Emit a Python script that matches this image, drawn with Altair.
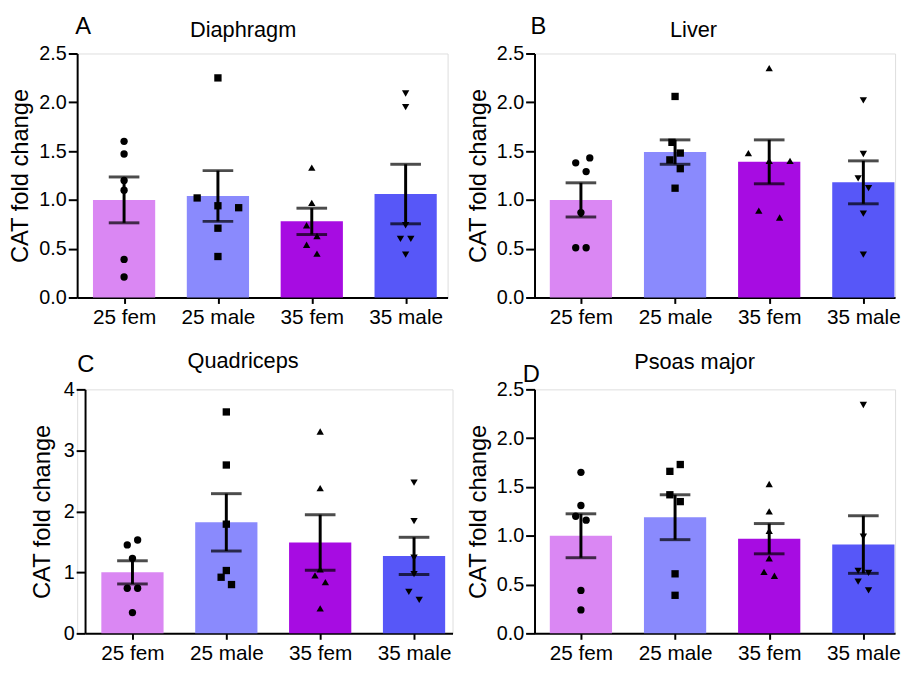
import altair as alt
import pandas as pd

groups = ["25 fem", "25 male", "35 fem", "35 male"]
bar_colors = ["#DA87F3", "#8A8AFD", "#A70CE2", "#5757F8"]
marker_shapes = ["circle", "square", "triangle-up", "triangle-down"]

# Panel A – Diaphragm
dia_points = [[1.60, 1.47, 1.20, 1.10, 0.39, 0.21],
              [2.25, 1.02, 0.94, 0.92, 0.71, 0.42],
              [1.33, 0.97, 0.74, 0.63, 0.54, 0.45],
              [2.09, 1.95, 0.74, 0.60, 0.60, 0.44]]
dia_slots = [[0, 0, 0, 0, 0, 0],
             [0, -4, 0, 4, 0, 0],
             [0, 0, -1, 1, -1, 1],
             [0, 0, 0, -1, 1, 0]]
dia_mean = [1.00, 1.04, 0.78, 1.06]
dia_sem = [0.235, 0.26, 0.135, 0.305]

# Panel B – Liver
liv_points = [[1.43, 1.38, 1.29, 0.87, 0.51, 0.51],
              [2.06, 1.59, 1.48, 1.41, 1.32, 1.12],
              [2.35, 1.48, 1.40, 1.40, 0.89, 0.82],
              [2.02, 1.47, 1.22, 1.12, 0.86, 0.44]]
liv_slots = [[1.7, -1, 1, 0, -1, 1],
             [0, -0.6, 1, -1, 1, 0],
             [0, -4, 0, 4, -2, 2],
             [0, 0, -1, 1, 0, 0]]
liv_mean = [1.00, 1.49, 1.39, 1.18]
liv_sem = [0.175, 0.125, 0.225, 0.22]

# Panel C – Quadriceps
qua_points = [[1.53, 1.45, 1.23, 0.74, 0.74, 0.34],
              [3.63, 2.76, 1.79, 1.03, 0.92, 0.80],
              [3.31, 2.38, 1.05, 0.95, 0.84, 0.41],
              [2.47, 1.84, 1.24, 0.97, 0.68, 0.55]]
qua_slots = [[1, -1, 0, -1, 1, 0],
             [0, 0, 0, 0, -1, 1],
             [0, 0, 0, -1, 1, 0],
             [0, 0, 0, 0, -1, 1]]
qua_mean = [1.00, 1.82, 1.49, 1.27]
qua_sem = [0.19, 0.47, 0.455, 0.305]

# Panel D – Psoas major
pso_points = [[1.65, 1.31, 1.20, 1.16, 0.44, 0.24],
              [1.73, 1.66, 1.42, 1.35, 0.61, 0.39],
              [1.53, 1.25, 1.05, 0.77, 0.63, 0.59],
              [2.34, 0.99, 0.64, 0.62, 0.53, 0.44]]
pso_slots = [[0, 0, -1, 1, 0, 0],
             [1, -1, -1, 1, 0, 0],
             [0, 0, 0, 0, -1, 1],
             [0, 0, -1, 1, -1, 1]]
pso_mean = [1.00, 1.19, 0.97, 0.91]
pso_sem = [0.225, 0.23, 0.155, 0.295]

FONT = "Liberation Sans"
SLOT = 0.0553  # jitter slot width, in category units
PLOT_H = 247


def panel(points, slots, mean, sem, ymax, ystep, yfmt, width, xdomain, xrange,
          axis_offset, title, letter, title_x, title_y, letter_x, letter_y,
          title_pad=6):
    idx = list(range(len(groups)))
    bars_df = pd.DataFrame({
        "group": groups,
        "idx": idx,
        "mean": mean,
        "lo": [m - s for m, s in zip(mean, sem)],
        "hi": [m + s for m, s in zip(mean, sem)],
    })
    rows = []
    for i, g, vals, sl in zip(idx, groups, points, slots):
        for v, s in zip(vals, sl):
            rows.append({"group": g, "idx": i, "value": v, "slot": s})
    pts_df = pd.DataFrame(rows)

    xs_kw = dict(domain=xdomain, nice=False, zero=False, padding=0)
    if xrange is not None:
        xs_kw["range"] = xrange
    xscale = alt.Scale(**xs_kw)
    label_expr = "[" + ",".join("'%s'" % g for g in groups) + "][datum.value]"
    xaxis = alt.Axis(title=None, values=idx, labelExpr=label_expr, labelAngle=0,
                     labelFontSize=21, labelPadding=3, tickSize=6, tickWidth=2,
                     domainWidth=2, domainColor="black", tickColor="black",
                     labelColor="black", labelFont=FONT, grid=False,
                     labelFlush=False, labelOverlap=False)
    n_ticks = int(round(ymax / ystep)) + 1
    yvals = [round(i * ystep, 2) for i in range(n_ticks)]
    yscale = alt.Scale(domain=[0, ymax], nice=False, zero=True, padding=0)
    yaxis = alt.Axis(title="CAT fold change", values=yvals, format=yfmt,
                     grid=False, labelFontSize=20, labelPadding=2, tickSize=9,
                     tickWidth=2, domainWidth=2, domainColor="black",
                     tickColor="black", labelColor="black", titleColor="black",
                     titleFontSize=24, titleFontWeight="normal",
                     titlePadding=title_pad, offset=axis_offset,
                     labelFont=FONT, titleFont=FONT, labelFlush=False)

    bars = alt.Chart(bars_df).mark_bar(size=63, orient="vertical").encode(
        x=alt.X("idx:Q", scale=xscale, axis=xaxis),
        y=alt.Y("mean:Q", scale=yscale, axis=yaxis),
        color=alt.Color("group:N", scale=alt.Scale(domain=groups, range=bar_colors),
                        legend=None),
    )
    pts = alt.Chart(pts_df).transform_calculate(
        pos="datum.idx + datum.slot * %f" % SLOT
    ).mark_point(filled=True, size=55, opacity=1, color="black").encode(
        x=alt.X("pos:Q", scale=xscale, axis=xaxis),
        y=alt.Y("value:Q", scale=yscale, axis=yaxis),
        shape=alt.Shape("group:N", scale=alt.Scale(domain=groups, range=marker_shapes),
                        legend=None),
    )
    rule = alt.Chart(bars_df).mark_rule(strokeWidth=3, color="black").encode(
        x=alt.X("idx:Q", scale=xscale, axis=xaxis),
        y=alt.Y("lo:Q", scale=yscale, axis=yaxis),
        y2="hi:Q",
    )
    cap_lo = alt.Chart(bars_df).mark_tick(size=31, thickness=3, color="black",
                                          orient="horizontal").encode(
        x=alt.X("idx:Q", scale=xscale, axis=xaxis),
        y=alt.Y("lo:Q", scale=yscale, axis=yaxis))
    cap_hi = alt.Chart(bars_df).mark_tick(size=31, thickness=3, color="black",
                                          orient="horizontal").encode(
        x=alt.X("idx:Q", scale=xscale, axis=xaxis),
        y=alt.Y("hi:Q", scale=yscale, axis=yaxis))
    ttl = alt.Chart(pd.DataFrame({"t": [title]})).mark_text(
        fontSize=22, font=FONT, align="center", baseline="alphabetic", color="black"
    ).encode(text="t:N", x=alt.value(title_x), y=alt.value(title_y))
    let = alt.Chart(pd.DataFrame({"t": [letter]})).mark_text(
        fontSize=24, font=FONT, align="left", baseline="alphabetic", color="black"
    ).encode(text="t:N", x=alt.value(letter_x), y=alt.value(letter_y))

    return alt.layer(bars, pts, rule, cap_lo, cap_hi, ttl, let).properties(
        width=width, height=PLOT_H)


A = panel(dia_points, dia_slots, dia_mean, dia_sem, 2.5, 0.5, ".1f", 375,
          [-0.5, 3.447], None, 0, "Diaphragm", "A", 168, -17, -2, -20)
B = panel(liv_points, liv_slots, liv_mean, liv_sem, 2.5, 0.5, ".1f", 365,
          [-0.493, 3.337], None, 0, "Liver", "B", 161, -17, -4, -20)
C = panel(qua_points, qua_slots, qua_mean, qua_sem, 4, 1, "d", 380,
          [-0.505, 3.41], [8, 380], -8, "Quadriceps", "C", 168, -22, 0, -18,
          title_pad=9)
D = panel(pso_points, pso_slots, pso_mean, pso_sem, 2.5, 0.5, ".1f", 365,
          [-0.493, 3.337], None, 0, "Psoas major", "D", 162, -21, -12, -7)

chart = alt.concat(A, B, C, D, columns=2, spacing={"row": 21, "column": 12}).properties(
    padding={"left": 0, "top": 2, "right": 0, "bottom": 0}
).configure_view(stroke=None).configure(font=FONT, background="white")

chart.save("out.html", embed_options={"renderer": "svg", "actions": False})
